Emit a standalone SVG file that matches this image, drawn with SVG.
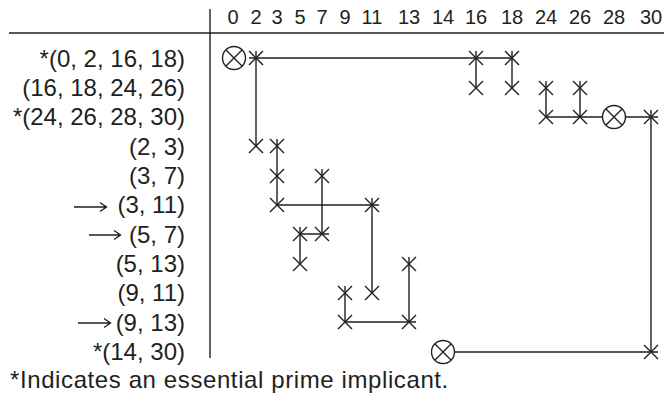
<svg xmlns="http://www.w3.org/2000/svg" width="664" height="394" viewBox="0 0 664 394">
<defs>
<style>
text{font-family:"Liberation Sans","Open Sans","DejaVu Sans",sans-serif;fill:#231f20}
.lbl{font-size:24px;text-anchor:end}
.hd{font-size:20px;text-anchor:middle}
.ft{font-size:24px;letter-spacing:0.6px}
.ln{stroke:#231f20;stroke-width:1.4;fill:none}
.mk{stroke:#231f20;stroke-width:1.4;fill:none}
.ci{stroke:#231f20;stroke-width:1.4;fill:#fff}
</style>
<path id="x" class="mk" d="M-7,-7L7,7M7,-7L-7,7"/>
<g id="cx"><circle class="ci" r="11.5"/><path class="mk" d="M-8,-8L8,8M8,-8L-8,8"/></g>
</defs>
<rect width="664" height="394" fill="#fff"/>
<g id="frame">
<line class="ln" x1="210" y1="9" x2="210" y2="358"/>
<line class="ln" x1="9" y1="33" x2="664" y2="33"/>
</g>
<g id="header">
<text class="hd" x="233" y="24">0</text>
<text class="hd" x="256" y="24">2</text>
<text class="hd" x="277" y="24">3</text>
<text class="hd" x="300" y="24">5</text>
<text class="hd" x="322" y="24">7</text>
<text class="hd" x="345" y="24">9</text>
<text class="hd" x="372" y="24">11</text>
<text class="hd" x="409" y="24">13</text>
<text class="hd" x="443" y="24">14</text>
<text class="hd" x="476" y="24">16</text>
<text class="hd" x="512" y="24">18</text>
<text class="hd" x="546" y="24">24</text>
<text class="hd" x="580" y="24">26</text>
<text class="hd" x="614" y="24">28</text>
<text class="hd" x="651" y="24">30</text>
</g>
<g id="labels">
<text class="lbl" x="185" y="67">*(0, 2, 16, 18)</text>
<text class="lbl" x="185" y="96">(16, 18, 24, 26)</text>
<text class="lbl" x="185" y="125">*(24, 26, 28, 30)</text>
<text class="lbl" x="185" y="155">(2, 3)</text>
<text class="lbl" x="185" y="184">(3, 7)</text>
<text class="lbl" x="185" y="213">(3, 11)</text>
<text class="lbl" x="185" y="243">(5, 7)</text>
<text class="lbl" x="185" y="272">(5, 13)</text>
<text class="lbl" x="185" y="301">(9, 11)</text>
<text class="lbl" x="185" y="331">(9, 13)</text>
<text class="lbl" x="185" y="360">*(14, 30)</text>
<path class="ln" d="M74,207H106M100,202.5L106.5,207L100,211.5"/>
<path class="ln" d="M89,235H120M114,230.5L120.5,235L114,239.5"/>
<path class="ln" d="M78,323H110M104,318.5L110.5,323L104,327.5"/>
</g>
<g id="connectors">
<path class="ln" d="M256,51V146M476,51V88M512,51V88M546,81V117M580,81V117M651,110V352M277,139V205M322,169V234M300,227V264M372,198V293M409,257V322M345,286V322"/>
<path class="ln" d="M249,58H512M546,117H658M277,205H379M300,234H329M345,322H416M443,352H658"/>
</g>
<g id="row-0-2-16-18"><use href="#cx" x="234" y="58"/><use href="#x" x="256" y="58"/><use href="#x" x="476" y="58"/><use href="#x" x="512" y="58"/></g>
<g id="row-16-18-24-26"><use href="#x" x="476" y="88"/><use href="#x" x="512" y="88"/><use href="#x" x="546" y="88"/><use href="#x" x="580" y="88"/></g>
<g id="row-24-26-28-30"><use href="#x" x="546" y="117"/><use href="#x" x="580" y="117"/><use href="#cx" x="614" y="117"/><use href="#x" x="651" y="117"/></g>
<g id="row-2-3"><use href="#x" x="256" y="146"/><use href="#x" x="277" y="146"/></g>
<g id="row-3-7"><use href="#x" x="277" y="176"/><use href="#x" x="322" y="176"/></g>
<g id="row-3-11"><use href="#x" x="277" y="205"/><use href="#x" x="372" y="205"/></g>
<g id="row-5-7"><use href="#x" x="300" y="234"/><use href="#x" x="322" y="234"/></g>
<g id="row-5-13"><use href="#x" x="300" y="264"/><use href="#x" x="409" y="264"/></g>
<g id="row-9-11"><use href="#x" x="345" y="293"/><use href="#x" x="372" y="293"/></g>
<g id="row-9-13"><use href="#x" x="345" y="322"/><use href="#x" x="409" y="322"/></g>
<g id="row-14-30"><use href="#cx" x="443" y="352"/><use href="#x" x="651" y="352"/></g>
<text class="ft" x="10" y="388">*Indicates an essential prime implicant.</text>
</svg>
